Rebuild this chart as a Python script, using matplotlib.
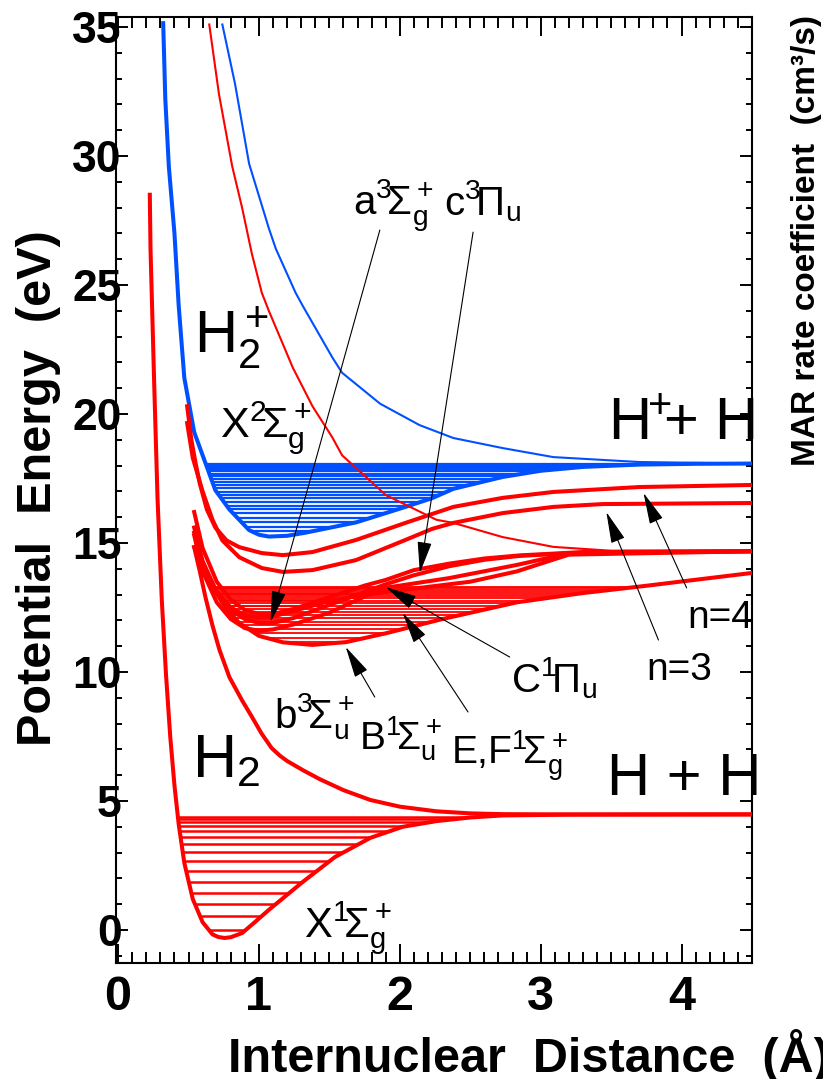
import matplotlib
matplotlib.use('Agg')

import matplotlib.pyplot as plt
import numpy as np
from matplotlib.ticker import MultipleLocator

plt.rcParams['font.family'] = ['Liberation Sans', 'DejaVu Sans']
plt.rcParams['mathtext.fontset'] = 'custom'
plt.rcParams['mathtext.rm'] = 'Liberation Sans'
plt.rcParams['mathtext.it'] = 'Liberation Sans:italic'
plt.rcParams['mathtext.bf'] = 'Liberation Sans:bold'

RED = '#ff0000'
BLUE = '#0050ff'

# potential curves: r (Angstrom), E (eV)
h2_x_r = [0.225, 0.23, 0.256, 0.28, 0.31, 0.34, 0.37, 0.40, 0.43, 0.47, 0.53, 0.6, 0.67, 0.71,
          0.755, 0.8, 0.88, 0.97, 1.07, 1.31, 1.54, 1.79, 2.02, 2.26, 2.5, 2.73, 3.2, 4.5]
h2_x_e = [28.5, 26.4, 21.2, 16.7, 12.8, 9.9, 7.5, 5.6, 4.1, 2.6, 1.2, 0.3, -0.17, -0.27,
          -0.31, -0.28, -0.12, 0.3, 0.78, 1.86, 2.83, 3.57, 4.0, 4.22, 4.36, 4.44, 4.47, 4.48]
h2_x_levels = [0.0, 0.54, 1.0, 1.43, 1.86, 2.29, 2.67, 3.02, 3.33, 3.6, 3.84, 4.03, 4.19, 4.3, 4.38]

h2p_x_r = [0.32, 0.335, 0.36, 0.40, 0.43, 0.47, 0.54, 0.62, 0.69, 0.79, 0.93, 1.0, 1.07, 1.2,
           1.33, 1.69, 2.04, 2.23, 2.38, 2.73, 3.0, 3.3, 3.7, 4.1, 4.5]
h2p_x_e = [35.15, 32.2, 29.6, 27.0, 24.2, 21.4, 19.3, 18.1, 17.05, 16.3, 15.5, 15.32, 15.25,
           15.28, 15.4, 15.8, 16.4, 16.74, 17.1, 17.56, 17.8, 17.95, 18.04, 18.07, 18.08]
h2p_x_levels = [15.47, 15.63, 15.8, 15.98, 16.15, 16.3, 16.44, 16.6, 16.73, 16.86, 16.99, 17.12,
                17.25, 17.37, 17.48, 17.59, 17.69, 17.78, 17.86, 17.93, 17.99, 18.03, 18.06]

h2p_rep_r = [0.74, 0.83, 0.93, 1.07, 1.12, 1.26, 1.31, 1.52, 1.59, 1.86, 2.14, 2.38, 2.73,
             3.09, 3.7, 4.5]
h2p_rep_e = [35.1, 32.8, 29.7, 27.2, 26.4, 24.7, 24.2, 22.2, 21.6, 20.4, 19.57, 19.07, 18.68,
             18.33, 18.14, 18.08]

red_rep_r = [0.647, 0.716, 0.81, 0.88, 0.95, 1.02, 1.07, 1.24, 1.38, 1.52, 1.59, 1.9, 2.26,
             2.38, 2.73, 3.09, 3.5, 4.5]
red_rep_e = [35.1, 32.4, 29.6, 28.0, 26.2, 24.7, 24.0, 21.8, 20.3, 19.1, 18.4, 16.86, 15.9,
             15.78, 15.23, 14.85, 14.7, 14.68]

n4_r = [0.49, 0.52, 0.55, 0.58, 0.63, 0.69, 0.77, 0.86, 1.02, 1.17, 1.38, 1.69, 2.04, 2.38,
        2.73, 3.09, 3.7, 4.5]
n4_e = [20.3, 19.0, 18.1, 17.3, 16.3, 15.6, 15.1, 14.84, 14.61, 14.53, 14.65, 15.12, 15.78,
        16.4, 16.75, 16.98, 17.17, 17.25]

n3_r = [0.49, 0.53, 0.6, 0.67, 0.74, 0.86, 1.02, 1.17, 1.38, 1.69, 2.04, 2.23, 2.38, 2.73,
        3.09, 3.44, 4.5]
n3_e = [19.65, 18.3, 17.0, 15.9, 15.1, 14.45, 14.03, 13.88, 13.95, 14.34, 15.12, 15.55, 15.78,
        16.16, 16.4, 16.51, 16.55]

b3_r = [0.54, 0.58, 0.62, 0.67, 0.72, 0.79, 0.88, 0.95, 1.02, 1.09, 1.15, 1.2, 1.31, 1.43,
        1.6, 1.79, 2.0, 2.26, 2.5, 2.73, 3.2, 4.5]
b3_e = [14.84, 13.9, 12.9, 11.8, 10.85, 9.8, 8.9, 8.26, 7.6, 7.05, 6.75, 6.55, 6.2, 5.85,
        5.42, 5.04, 4.78, 4.6, 4.52, 4.49, 4.48, 4.48]

B1_r = [0.54, 0.6, 0.68, 0.76, 0.86, 1.0, 1.17, 1.38, 1.62, 1.9, 2.3, 2.83, 3.3, 3.73, 4.5]
B1_e = [14.84, 14.0, 13.2, 12.5, 11.9, 11.4, 11.15, 11.05, 11.16, 11.5, 12.05, 12.7, 13.06,
        13.33, 13.84]
B1_levels = [11.18, 11.31, 11.5, 11.66, 11.82, 11.95, 12.08, 12.21, 12.34, 12.45, 12.56, 12.66,
             12.76, 12.86, 12.95, 13.02, 13.11, 13.18, 13.24, 13.3]

a3_r = [0.54, 0.6, 0.7, 0.8, 0.9, 1.0, 1.1, 1.25, 1.5, 1.88, 2.35, 2.83, 3.2, 3.6, 4.5]
a3_e = [15.3, 13.9, 12.7, 12.05, 11.7, 11.6, 11.65, 11.85, 12.3, 13.25, 13.64, 14.15, 14.6,
        14.66, 14.68]

c3_r = [0.54, 0.6, 0.7, 0.8, 0.9, 1.0, 1.1, 1.25, 1.5, 1.75, 1.9, 2.1, 2.35, 2.6, 2.85, 3.3, 4.5]
c3_e = [15.6, 14.3, 13.1, 12.4, 12.05, 11.9, 11.9, 12.1, 12.6, 13.1, 13.4, 13.75, 14.1, 14.35,
        14.5, 14.63, 14.68]
c3_levels = [12.0, 12.28, 12.55, 12.8, 13.04, 13.26]

C1_r = [0.54, 0.6, 0.7, 0.8, 0.9, 1.0, 1.1, 1.25, 1.5, 1.75, 1.9, 2.1, 2.35, 2.6, 2.85, 3.3, 4.5]
C1_e = [16.2, 14.8, 13.5, 12.8, 12.4, 12.25, 12.25, 12.45, 12.9, 13.35, 13.57, 13.95, 14.2,
        14.4, 14.52, 14.65, 14.68]

EF_r = [0.54, 0.6, 0.7, 0.8, 0.9, 1.0, 1.1, 1.3, 1.5, 1.7, 1.9, 2.2, 2.5, 2.83, 3.2, 4.5]
EF_e = [15.4, 14.2, 13.1, 12.5, 12.2, 12.1, 12.15, 12.45, 12.75, 12.95, 13.1, 13.3, 13.5, 13.9,
        14.55, 14.68]

# annotation arrows (label end -> tip), data coordinates
arrow_tail = [(1.858, 27.13), (2.52, 27.05), (2.78, 10.58), (2.484, 8.45), (1.822, 9.03),
              (4.036, 13.26), (3.836, 11.24)]
arrow_head = [(1.082, 11.94), (2.142, 13.84), (1.90, 13.29), (2.02, 12.29), (1.616, 10.97),
              (3.73, 16.94), (3.466, 16.2)]


def turning_points(r, e, levels):
    r = np.asarray(r)
    e = np.asarray(e)
    i = int(np.argmin(e))
    left = np.interp(levels, e[:i + 1][::-1], r[:i + 1][::-1])
    right = np.interp(levels, e[i:], r[i:])
    return left, right


def draw_levels(ax, r, e, levels, color, lw):
    left, right = turning_points(r, e, levels)
    ax.hlines(levels, left, right, color=color, lw=lw, zorder=2)


fig = plt.figure(figsize=(8.23, 10.79), dpi=100)
ax = fig.add_axes([116 / 823, 1 - 963 / 1079, 636 / 823, 946 / 1079])

draw_levels(ax, h2_x_r, h2_x_e, h2_x_levels, RED, 1.8)
draw_levels(ax, h2p_x_r, h2p_x_e, h2p_x_levels, BLUE, 1.6)
draw_levels(ax, B1_r, B1_e, B1_levels, RED, 1.3)
draw_levels(ax, c3_r, c3_e, c3_levels, RED, 1.3)

thick = 2.9
ax.plot(h2_x_r, h2_x_e, color=RED, lw=thick, zorder=3, solid_joinstyle='round')
ax.plot(h2p_x_r, h2p_x_e, color=BLUE, lw=thick, zorder=3, solid_joinstyle='round')
ax.plot(h2p_rep_r, h2p_rep_e, color=BLUE, lw=1.5, zorder=3)
ax.plot(red_rep_r, red_rep_e, color=RED, lw=1.5, zorder=3)
for r, e in [(n4_r, n4_e), (n3_r, n3_e), (b3_r, b3_e), (B1_r, B1_e), (a3_r, a3_e),
             (c3_r, c3_e), (C1_r, C1_e), (EF_r, EF_e)]:
    ax.plot(r, e, color=RED, lw=thick, zorder=3, solid_joinstyle='round')

for tail, head in zip(arrow_tail, arrow_head):
    ax.annotate('', xy=head, xytext=tail,
                arrowprops=dict(arrowstyle='-|>,head_length=1.1,head_width=0.25',
                                color='black', lw=0.8, mutation_scale=18,
                                shrinkA=0, shrinkB=0), zorder=5)

# state labels
lab = dict(color='black', zorder=6, va='baseline', ha='left')
ax.text(0.54, 22.36, r'$\mathrm{H}_2^+$', fontsize=43, **lab)
ax.text(0.726, 19.1, r'$\mathrm{X}^2\!\Sigma_\mathrm{g}^+$', fontsize=31, **lab)
ax.text(3.475, 19.0, r'$\mathrm{H}^{\!\!+}\!\!$+ H', fontsize=43, **lab)
ax.text(0.527, 5.9, r'$\mathrm{H}_2$', fontsize=44, **lab)
ax.text(3.47, 5.23, 'H + H', fontsize=43, **lab)
ax.text(1.32, -0.31, r'$\mathrm{X}^1\!\Sigma_\mathrm{g}^+$', fontsize=30, **lab)
ax.text(1.67, 27.7, r'$\mathrm{a}^3\!\Sigma_\mathrm{g}^+$', fontsize=29, **lab)
ax.text(2.31, 27.7, r'$\mathrm{c}^3\!\Pi_\mathrm{u}$', fontsize=29, **lab)
ax.text(2.79, 9.22, r'$\mathrm{C}^1\!\Pi_\mathrm{u}$', fontsize=29, **lab)
ax.text(1.11, 7.83, r'$\mathrm{b}^3\!\Sigma_\mathrm{u}^+$', fontsize=29, **lab)
ax.text(1.71, 6.98, r'$\mathrm{B}^1\!\Sigma_\mathrm{u}^+$', fontsize=28, **lab)
ax.text(2.36, 6.4, r'E,F$^1\!\Sigma_\mathrm{g}^+$', fontsize=28, **lab)
ax.text(4.04, 11.7, 'n=4', fontsize=28, **lab)
ax.text(3.75, 9.69, 'n=3', fontsize=28, **lab)

ax.set_xlim(-0.015, 4.5)
ax.set_ylim(-1.28, 35.39)
ax.set_xticks([0, 1, 2, 3, 4])
ax.set_yticks([0, 5, 10, 15, 20, 25, 30, 35])
ax.xaxis.set_minor_locator(MultipleLocator(0.1))
ax.yaxis.set_minor_locator(MultipleLocator(1))
ax.tick_params(which='both', direction='in', top=True, right=True, width=1.4, color='black')
ax.tick_params(axis='x', which='major', length=14, labelsize=35, pad=9)
ax.tick_params(axis='x', which='minor', length=8)
ax.tick_params(axis='y', which='major', length=8.6, labelsize=32, pad=-4)
ax.tick_params(axis='y', which='minor', length=4.3)
for t in ax.get_xticklabels() + ax.get_yticklabels():
    t.set_fontweight('bold')
for s in ax.spines.values():
    s.set_linewidth(1.5)

fig.text(39 / 823, 1 - 488 / 1079, 'Potential  Energy  (eV)', rotation=90, fontsize=35,
         fontweight='bold', ha='center', va='center')
# the reference image crops this label at its right edge
fig.text(228 / 823, 1 - 1072 / 1079, 'Internuclear  Distance  (Å)', fontsize=35,
         fontweight='bold', ha='left', va='baseline')
fig.text(806 / 823, 1 - 240 / 1079, 'MAR rate coefficient  (cm³/s)', rotation=90, fontsize=24,
         fontweight='bold', ha='center', va='center')

fig.savefig('out.png', dpi=100)
